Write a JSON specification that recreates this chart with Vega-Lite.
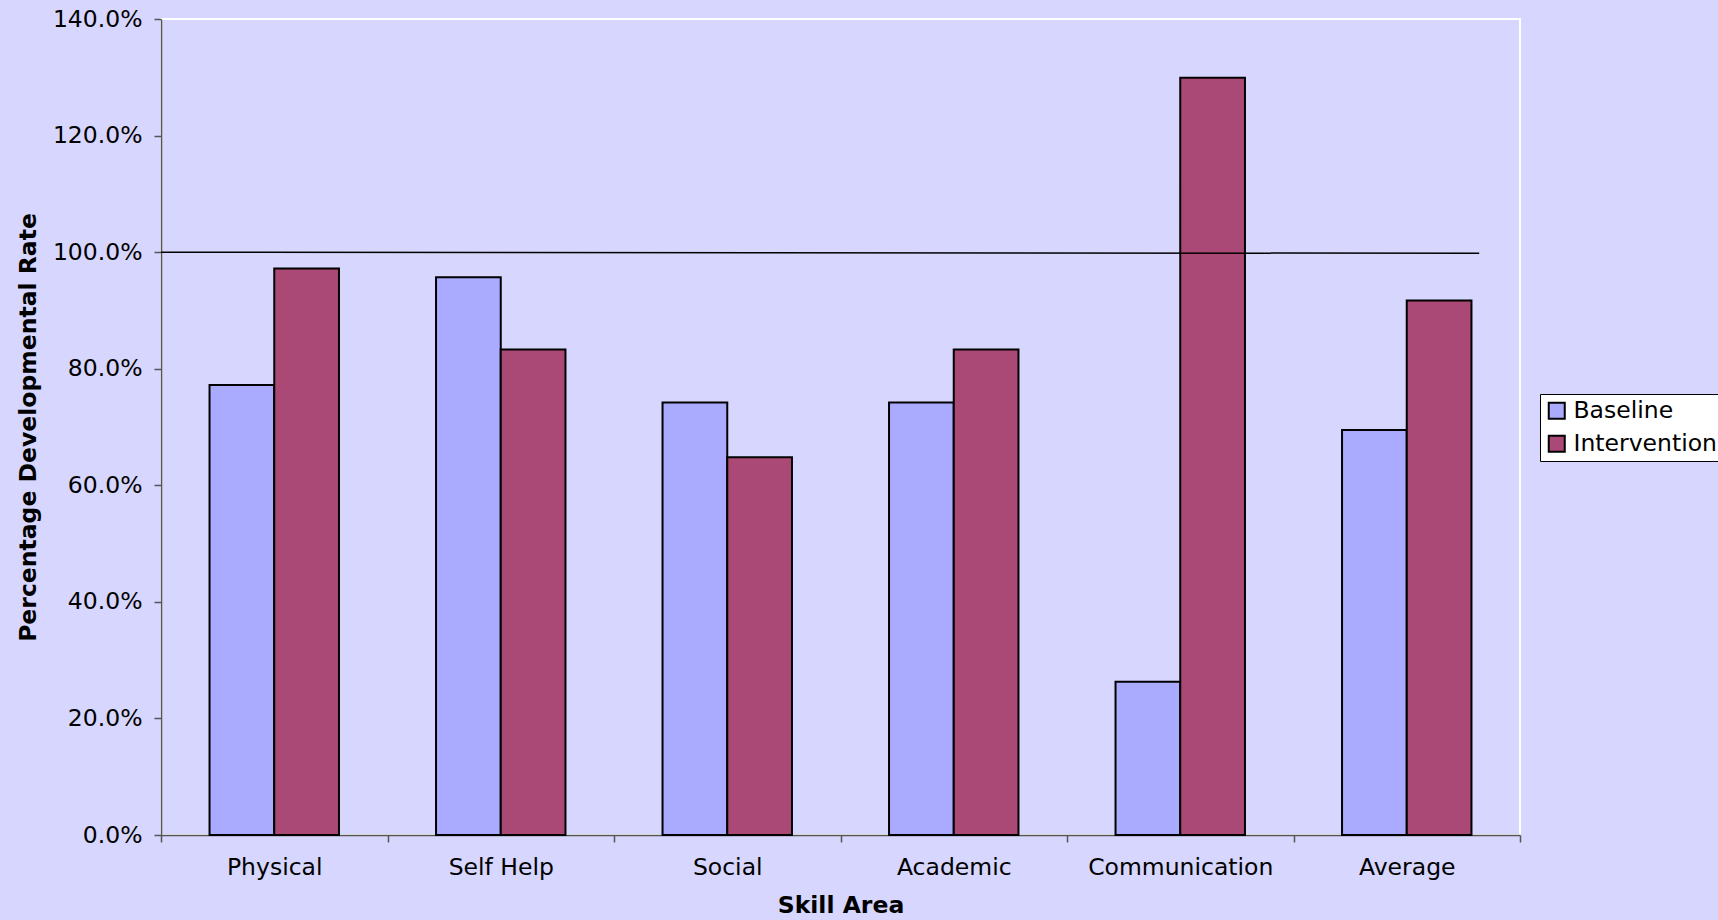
{
  "$schema": "https://vega.github.io/schema/vega-lite/v6.json",
  "autosize": "none",
  "width": 1359,
  "height": 816,
  "padding": {"left": 161, "top": 19, "right": 198, "bottom": 85},
  "background": "#D6D6FE",
  "config": {
    "font": "DejaVu Sans",
    "view": {"stroke": "#FFFFFF", "strokeWidth": 2, "fill": "#D6D6FE"},
    "axis": {"grid": false, "domainColor": "#555555", "tickColor": "#555555", "labelColor": "#000000", "titleColor": "#000000", "labelFont": "DejaVu Sans", "titleFont": "DejaVu Sans", "labelFontSize": 23.5, "titleFontSize": 23.5, "titleFontWeight": "bold", "tickSize": 7, "domainWidth": 1.5, "tickWidth": 1.5, "labelLimit": 0}
  },
  "datasets": {
    "bars": [
      {"Skill": "Physical", "Series": "Baseline", "value": 0.772},
      {"Skill": "Physical", "Series": "Intervention", "value": 0.972},
      {"Skill": "Self Help", "Series": "Baseline", "value": 0.957},
      {"Skill": "Self Help", "Series": "Intervention", "value": 0.833},
      {"Skill": "Social", "Series": "Baseline", "value": 0.742},
      {"Skill": "Social", "Series": "Intervention", "value": 0.648},
      {"Skill": "Academic", "Series": "Baseline", "value": 0.742},
      {"Skill": "Academic", "Series": "Intervention", "value": 0.833},
      {"Skill": "Communication", "Series": "Baseline", "value": 0.263},
      {"Skill": "Communication", "Series": "Intervention", "value": 1.299},
      {"Skill": "Average", "Series": "Baseline", "value": 0.695},
      {"Skill": "Average", "Series": "Intervention", "value": 0.917}
    ],
    "ref": [
      {"x": 0, "x2": 0.97, "value": 1.0, "value2": 0.998}
    ]
  },
  "layer": [
    {
      "data": {"name": "bars"},
      "mark": {"type": "bar", "stroke": "#000000", "strokeWidth": 2},
      "encoding": {
        "x": {
          "field": "Skill", "type": "nominal", "sort": null,
          "scale": {"paddingInner": 0, "paddingOuter": 0},
          "axis": {"title": "Skill Area", "labelAngle": 0, "tickBand": "extent", "labelPadding": 13, "titlePadding": 15, "labelLimit": 0, "labelOverlap": false}
        },
        "xOffset": {
          "field": "Series", "type": "nominal",
          "scale": {"paddingInner": 0, "paddingOuter": 0.75}
        },
        "y": {
          "field": "value", "type": "quantitative",
          "scale": {"domain": [0, 1.4], "nice": false},
          "axis": {"title": "Percentage Developmental Rate", "format": ".1%", "values": [0, 0.2, 0.4, 0.6, 0.8, 1.0, 1.2, 1.4], "labelPadding": 12, "titlePadding": 12}
        },
        "color": {
          "field": "Series", "type": "nominal",
          "scale": {"domain": ["Baseline", "Intervention"], "range": ["#AAAAFF", "#AA4976"]},
          "legend": {
            "title": null, "orient": "none", "legendX": 1379, "legendY": 375,
            "fillColor": "#FFFFFF", "strokeColor": "#000000", "padding": 5,
            "symbolType": "square", "symbolSize": 256, "symbolStrokeColor": "#000000", "symbolStrokeWidth": 2,
            "labelFontSize": 23.5, "labelFont": "DejaVu Sans", "labelColor": "#000000", "labelOffset": 5, "rowPadding": 8, "labelLimit": 0
          }
        }
      }
    },
    {
      "data": {"name": "ref"},
      "mark": {"type": "rule", "color": "#000000", "strokeWidth": 1.5},
      "encoding": {
        "x": {"field": "x", "type": "quantitative", "scale": {"domain": [0, 1], "nice": false, "zero": false}, "axis": null},
        "x2": {"field": "x2"},
        "y": {"field": "value", "type": "quantitative", "axis": {"title": "Percentage Developmental Rate", "format": ".1%", "values": [0, 0.2, 0.4, 0.6, 0.8, 1.0, 1.2, 1.4], "labelPadding": 12, "titlePadding": 12}},
        "y2": {"field": "value2"}
      }
    }
  ],
  "resolve": {"scale": {"x": "independent"}, "axis": {"x": "independent"}}
}
